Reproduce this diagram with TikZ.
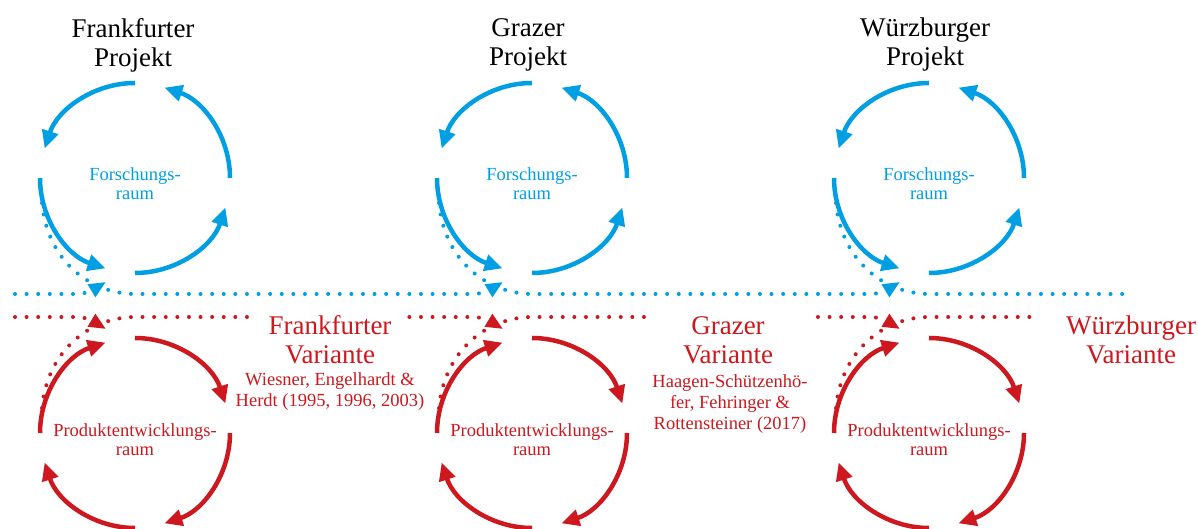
\documentclass[tikz,border=0pt]{standalone}
\usepackage{fontspec}
\setmainfont{Liberation Serif}
\usetikzlibrary{arrows.meta}
\definecolor{fblue}{RGB}{0,159,227}
\definecolor{fred}{RGB}{204,24,30}
\tikzset{
  ring/.style={line width=4.5pt, -{Triangle[length=18pt,width=16pt]}},
  dots/.style={line width=4pt, line cap=round, dash pattern=on 0pt off 11.6pt},
  dotarrow/.style={dots, -{Triangle[length=17pt,width=14pt]}},
  title/.style={align=center, font=\fontsize{27}{29}\selectfont},
  room/.style={align=center, font=\fontsize{18.5}{19}\selectfont},
  cite/.style={align=center, font=\fontsize{18.5}{21}\selectfont},
}

\begin{document}
\begin{tikzpicture}[x=1pt,y=1pt]
        \useasboundingbox (0,0) rectangle (1198,529);
        % circle centres
        \coordinate (FB) at (135,351);
        \coordinate (GB) at (532,351);
        \coordinate (WB) at (929,351);
        \coordinate (FR) at (135,96);
        \coordinate (GR) at (532,96);
        \coordinate (WR) at (929,96);
        % ends of the dotted lines
        \coordinate (Bstart) at (15,235);
        \coordinate (Bend) at (1126,235);
        \coordinate (Rstart) at (15,212);
        \coordinate (Rend) at (1126,212);
        \foreach \c in {FB,GB,WB} {
          \coordinate (\c src) at ([shift={(-93,-25)}]\c);
          \coordinate (\c join) at ([shift={(0,-116)}]\c);
          \coordinate (\c in) at ([shift={(-29,-104)}]\c);
          \foreach \a in {0,90,180,270}
            \draw[ring, fblue] ([shift={(\a:95pt)}]\c) arc[start angle=\a, delta angle=72, radius=95pt];
        }
        \foreach \c in {FR,GR,WR} {
          \coordinate (\c src) at ([shift={(-93,25)}]\c);
          \coordinate (\c join) at ([shift={(0,116)}]\c);
          \coordinate (\c in) at ([shift={(-29,104)}]\c);
          \foreach \a in {0,90,180,270}
            \draw[ring, fred] ([shift={(\a:95pt)}]\c) arc[start angle=\a, delta angle=-72, radius=95pt];
        }
        % dotted transfer lines
        \draw[dotarrow, fblue] (Bstart) -- ([xshift=-60pt]FBjoin) to[out=0,in=211] (FBin);
        \draw[dotarrow, fblue] (FBsrc) .. controls +(5,-57) and +(-45,0) .. (FBjoin) -- ([xshift=-60pt]GBjoin) to[out=0,in=211] (GBin);
        \draw[dotarrow, fblue] (GBsrc) .. controls +(5,-57) and +(-45,0) .. (GBjoin) -- ([xshift=-60pt]WBjoin) to[out=0,in=211] (WBin);
        \draw[dots, fblue] (WBsrc) .. controls +(5,-57) and +(-45,0) .. (WBjoin) -- (Bend);
        \draw[dotarrow, fred] (Rstart) -- ([xshift=-60pt]FRjoin) to[out=0,in=149] (FRin);
        \draw[dotarrow, fred] (FRsrc) .. controls +(5,57) and +(-45,0) .. (FRjoin) -- ([xshift=-60pt]GRjoin) to[out=0,in=149] (GRin);
        \draw[dotarrow, fred] (GRsrc) .. controls +(5,57) and +(-45,0) .. (GRjoin) -- ([xshift=-60pt]WRjoin) to[out=0,in=149] (WRin);
        \draw[dots, fred] (WRsrc) .. controls +(5,57) and +(-45,0) .. (WRjoin) -- (Rend);
        % labels
        \node[title] (FPt) at (133,484) {Frankfurter\\Projekt};
        \node[title] (GPt) at (528,484) {Grazer\\Projekt};
        \node[title] (WPt) at (925,484) {Würzburger\\Projekt};
        \node[room, fblue] (FBl) at ([yshift=-6pt]FB) {Forschungs-\\raum};
        \node[room, fblue] (GBl) at ([yshift=-6pt]GB) {Forschungs-\\raum};
        \node[room, fblue] (WBl) at ([yshift=-6pt]WB) {Forschungs-\\raum};
        \node[room, fred] (FRl) at ([yshift=-7pt]FR) {Produktentwicklungs-\\raum};
        \node[room, fred] (GRl) at ([yshift=-7pt]GR) {Produktentwicklungs-\\raum};
        \node[room, fred] (WRl) at ([yshift=-7pt]WR) {Produktentwicklungs-\\raum};
        \node[title, fred, fill=white, inner xsep=16pt] (FVt) at (330,189) {Frankfurter\\Variante};
        \node[title, fred, fill=white, inner xsep=36pt] (GVt) at (728,189) {Grazer\\Variante};
        \node[title, fred, fill=white, inner xsep=28pt] (WVt) at (1131,189) {Würzburger\\Variante};
        \node[cite, fred] (FVc) at (330,137) {Wiesner, Engelhardt \&\\Herdt (1995, 1996, 2003)};
        \node[cite, fred] (GVc) at (730,125) {Haagen-Schützenhö-\\fer, Fehringer \&\\Rottensteiner (2017)};
\end{tikzpicture}
\end{document}
